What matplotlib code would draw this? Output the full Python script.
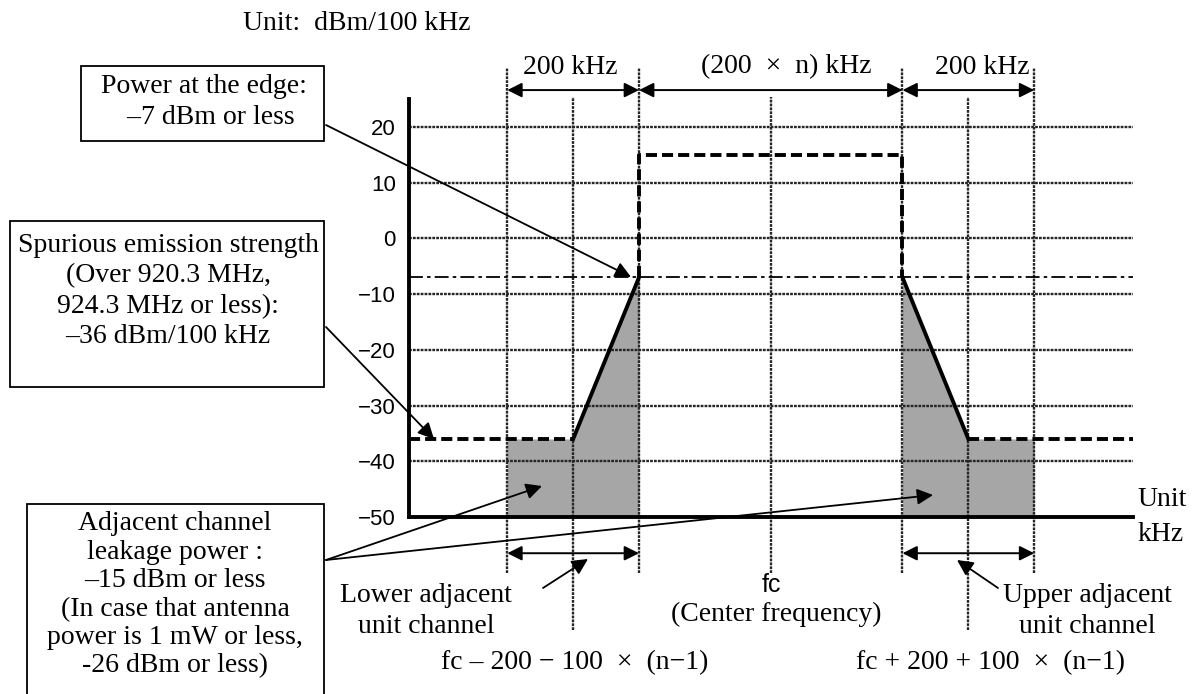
import matplotlib
matplotlib.use("Agg")
import matplotlib.pyplot as plt
import matplotlib.transforms as mtransforms
from matplotlib.patches import Rectangle

plt.rcParams['lines.scale_dashes'] = False

# ---------------- data ----------------
y_ticks = [20, 10, 0, -10, -20, -30, -40, -50]
y_tick_labels = ['20', '10', '0', '\u221210', '\u221220', '\u221230', '\u221240', '\u221250']
grid_levels = [20, 10, 0, -10, -20, -30, -40]

fc = 0
band_edges = [-200, 200]          # edges of the (200 x n) kHz band
adj_outer_edges = [-400, 400]     # outer edges of adjacent unit channels
adj_centers = [-300, 300]         # centres of adjacent unit channels

inband_level = 15
edge_level = -7
spurious_level = -36
floor_level = -50

lower_mask_x = [-400, -300, -200]
lower_mask_y = [-36, -36, -7]
upper_mask_x = [200, 300, 400]
upper_mask_y = [-7, -36, -36]

x_lim = (-550, 550)
y_lim = (-50, 25)

# ---------------- figure ----------------
W, H = 1204, 694
fig = plt.figure(figsize=(W / 100, H / 100), dpi=100)
px = mtransforms.Affine2D().scale(1 / W, -1 / H).translate(0, 1) + fig.transFigure

ax = fig.add_axes([408.5 / W, (H - 517) / H, (1133 - 408.5) / W, (517 - 99) / H])
ax.set_xlim(*x_lim)
ax.set_ylim(*y_lim)
ax.patch.set_alpha(0)
for s in ['top', 'right']:
    ax.spines[s].set_visible(False)
for s in ['left', 'bottom']:
    ax.spines[s].set_linewidth(2.8)
    ax.spines[s].set_zorder(6)
ax.set_xticks([])
ax.set_yticks(y_ticks)
SANS = ['Liberation Sans', 'DejaVu Sans']
ax.set_yticklabels(y_tick_labels, fontsize=16, family=SANS)
ax.tick_params(axis='y', length=0, pad=9)

SERIF = ['Liberation Serif', 'DejaVu Serif']
FS = 20
grid_kw = dict(color='#262626', lw=1.7, linestyle=(0, (2.0, 0.8)))

# gray fills (adjacent channel leakage)
ax.fill_between(lower_mask_x, floor_level, lower_mask_y, color='#a6a6a6', lw=0, zorder=1)
ax.fill_between(upper_mask_x, floor_level, upper_mask_y, color='#a6a6a6', lw=0, zorder=1)

# horizontal grid
ax.hlines(grid_levels, x_lim[0], x_lim[1], zorder=2, **grid_kw)

# vertical reference lines
ax.vlines(adj_outer_edges + band_edges, -60.0, 30.6, zorder=2, clip_on=False, **grid_kw)
ax.vlines(adj_centers, -70.3, 25.4, zorder=2, clip_on=False, **grid_kw)
ax.vlines([fc], -60.0, 25.4, zorder=2, clip_on=False, **grid_kw)

# -7 dBm edge level (dash-dot)
ax.hlines([edge_level], x_lim[0], x_lim[1], color='black', lw=1.3,
          linestyle=(0, (10, 3, 2.5, 3)), zorder=3)

# mask lines
thick_dash = (0, (8, 3.6))
ax.plot([x_lim[0], lower_mask_x[1]], [spurious_level, spurious_level], color='black',
        lw=2.8, linestyle=thick_dash, zorder=5)
ax.plot([upper_mask_x[1], x_lim[1]], [spurious_level, spurious_level], color='black',
        lw=2.8, linestyle=thick_dash, zorder=5)
ax.plot([band_edges[0], band_edges[0], band_edges[1], band_edges[1]],
        [edge_level, inband_level, inband_level, edge_level], color='black',
        lw=2.8, linestyle=thick_dash, zorder=5)
ax.plot(lower_mask_x[1:], lower_mask_y[1:], color='black', lw=2.8, zorder=5)
ax.plot(upper_mask_x[:2], upper_mask_y[:2], color='black', lw=2.8, zorder=5)

# dimension arrows
dbl = dict(arrowstyle='<|-|>', color='black', lw=1.4, mutation_scale=22, shrinkA=0, shrinkB=0)
y_top_arrow = 26.6
for a, b in [(adj_outer_edges[0], band_edges[0]), (band_edges[0], band_edges[1]),
             (band_edges[1], adj_outer_edges[1])]:
    ax.annotate('', xy=(b, y_top_arrow), xytext=(a, y_top_arrow),
                arrowprops=dbl, annotation_clip=False, zorder=6)
y_bot_arrow = -56.5
for a, b in [(adj_outer_edges[0], band_edges[0]), (band_edges[1], adj_outer_edges[1])]:
    ax.annotate('', xy=(b, y_bot_arrow), xytext=(a, y_bot_arrow),
                arrowprops=dbl, annotation_clip=False, zorder=6)

# ---------------- texts in pixel coordinates ----------------
def T(x, y, s, ha='center', va='center', fam=SERIF, fs=FS, ls=1.2, **kw):
    fig.text(x, y, s, transform=px, ha=ha, va=va, family=fam, fontsize=fs,
             linespacing=ls, multialignment='center', **kw)

T(243, 24, 'Unit:  dBm/100 kHz', ha='left')
T(570, 67, '200 kHz')
T(786, 67, '(200  \u00d7  n) kHz')
T(982, 67, '200 kHz')

# annotation boxes
for (x0, y0, x1, y1) in [(81, 66, 324, 141), (10, 221, 324, 387), (27, 504, 324, 710)]:
    fig.patches.append(Rectangle((x0, y1), x1 - x0, y0 - y1, transform=px,
                                 fill=False, ec='black', lw=1.3))

T(204, 102, 'Power at the edge:\n  \u20137 dBm or less', ls=1.3)
T(168, 291, 'Spurious emission strength\n(Over 920.3 MHz,\n924.3 MHz or less):\n\u201336 dBm/100 kHz', ls=1.29)
T(175, 595, 'Adjacent channel\nleakage power :\n\u201315 dBm or less\n(In case that antenna\npower is 1 mW or less,\n-26 dBm or less)', ls=1.18)

T(426, 611, 'Lower adjacent\nunit channel', ls=1.3)
T(1087, 611, 'Upper adjacent\nunit channel', ls=1.3)
T(771, 585, 'fc', fam=SANS, fs=18)
T(776, 614, '(Center frequency)')
T(575, 663, 'fc \u2013 200 \u2212 100  \u00d7  (n\u22121)')
T(991, 663, 'fc + 200 + 100  \u00d7  (n\u22121)')
T(1137, 500, 'Unit', ha='left')
T(1137, 535, 'kHz', ha='left')

# pointer arrows
ptr = dict(arrowstyle='-|>', color='black', lw=1.3, mutation_scale=24, shrinkA=0, shrinkB=0)
for (x0, y0, x1, y1) in [(326, 125, 631, 277), (326, 327, 434, 439),
                         (326, 560, 542, 486), (326, 560, 933, 495),
                         (543, 588, 588, 559), (998, 588, 957, 560)]:
    ax.annotate('', xy=(x1, y1), xycoords=px, xytext=(x0, y0), textcoords=px,
                arrowprops=ptr, annotation_clip=False, zorder=7)

fig.savefig('out.png', dpi=100)
